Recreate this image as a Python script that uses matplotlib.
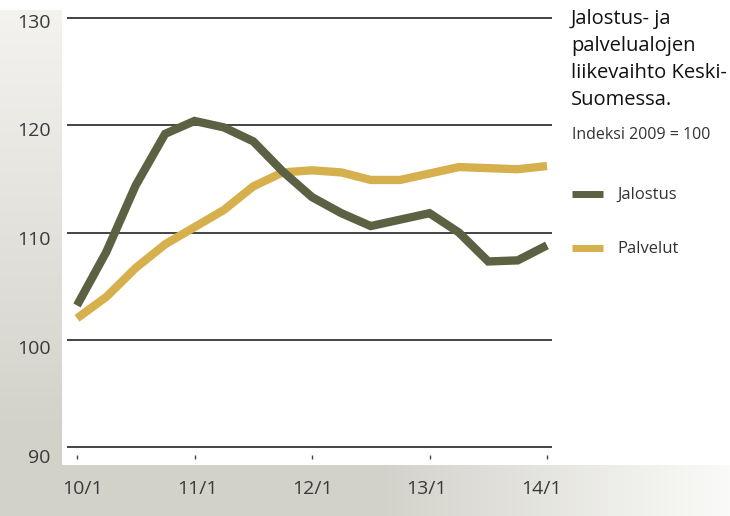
import numpy as np
import matplotlib
matplotlib.use('Agg')
import matplotlib.pyplot as plt
from matplotlib.transforms import ScaledTranslation

# quarterly index values, 2009 = 100
quarters = ['10/1', '10/2', '10/3', '10/4', '11/1', '11/2', '11/3', '11/4',
            '12/1', '12/2', '12/3', '12/4', '13/1', '13/2', '13/3', '13/4', '14/1']
jalostus = [103.2, 108.2, 114.4, 119.2, 120.4, 119.8, 118.5, 115.7,
            113.3, 111.8, 110.6, 111.2, 111.8, 110.0, 107.3, 107.4, 108.8]
palvelut = [102.0, 104.0, 106.7, 108.9, 110.5, 112.1, 114.3, 115.6,
            115.8, 115.6, 114.9, 114.9, 115.5, 116.1, 116.0, 115.9, 116.2]
yticks = [90, 100, 110, 120, 130]
xtick_labels = ['10/1', '11/1', '12/1', '13/1', '14/1']

plt.rcParams['font.family'] = ['Open Sans', 'DejaVu Sans']

W, H = 730, 516
fig = plt.figure(figsize=(W / 100, H / 100), dpi=100)

# background: gray bands with gradients (left and bottom)
img = np.ones((H, W, 3))
dark = np.array([0.827, 0.824, 0.792])
light = np.array([0.955, 0.952, 0.94])
yy = np.arange(H)
t = np.clip((yy - 10) / 420.0, 0, 1)[:, None]
band = light * (1 - t) + dark * t
img[10:, :62, :] = band[10:, None, :] * np.ones((1, 62, 1))
xx = np.arange(W)
s = np.clip((xx - 380) / 370.0, 0, 1)[:, None]
hband = dark * (1 - s) + np.array([0.99, 0.99, 0.985]) * s
img[465:, :, :] = hband[None, :, :]
img[465:, :62, :] = dark
bg = fig.add_axes([0, 0, 1, 1], zorder=0)
bg.imshow(img, extent=(0, W, H, 0), aspect='auto', interpolation='bilinear')
bg.axis('off')

# main axes
left, right, top, bottom = 67, 552, 17, 459
ax = fig.add_axes([left / W, 1 - bottom / H, (right - left) / W, (bottom - top) / H], zorder=1)
ax.patch.set_alpha(0)
x = np.arange(len(quarters))
ax.plot(x, palvelut, color='#d6b04c', lw=6, solid_capstyle='butt', solid_joinstyle='miter', zorder=3)
ax.plot(x, jalostus, color='#5b6142', lw=6, solid_capstyle='butt', solid_joinstyle='miter', zorder=4)

px_per_unit = (447 - 18) / 40.0
ax.set_ylim(90 - (bottom - 447) / px_per_unit, 130 + (18 - top) / px_per_unit)
px_per_q = (547 - 77) / 16.0
ax.set_xlim(-(77 - left) / px_per_q, 16 + (right - 547) / px_per_q)

for v in yticks:
    ax.axhline(v, color='#111111', lw=1.1, zorder=2)

ax.set_yticks(yticks)
ax.set_yticklabels([str(v) for v in yticks], fontsize=14, color='#3a3a3a')
ax.tick_params(axis='y', length=0, pad=12)
# labels in the original sit slightly lower the further down they are
for lab, v in zip(ax.get_yticklabels(), yticks):
    off = (2.5 + (130 - v) * 0.16) / 100
    lab.set_transform(lab.get_transform() + ScaledTranslation(0, -off, fig.dpi_scale_trans))

ax.set_xticks([quarters.index(q) for q in xtick_labels])
ax.set_xticklabels(xtick_labels, fontsize=14, color='#3a3a3a')
ax.tick_params(axis='x', direction='in', length=3, width=1, color='#444444', pad=15)
for i, lab in enumerate(ax.get_xticklabels()):
    off = (5.5 - i * 2.75) / 100
    lab.set_transform(lab.get_transform() + ScaledTranslation(off, 0, fig.dpi_scale_trans))
for sp in ax.spines.values():
    sp.set_visible(False)

# title and legend on the right
fig.text(571 / W, 1 - 9 / H, 'Jalostus- ja\npalvelualojen\nliikevaihto Keski-\nSuomessa.',
         fontsize=14.5, color='#111111', va='top', ha='left', linespacing=1.47)
fig.text(572 / W, 1 - 135 / H, 'Indeksi 2009 = 100', fontsize=11.5, color='#333333',
         va='center', ha='left')
for i, (name, col) in enumerate([('Jalostus', '#5b6142'), ('Palvelut', '#d6b04c')]):
    yc = 1 - (194 + 54 * i) / H
    fig.add_artist(plt.Line2D([572 / W, 603 / W], [yc, yc], color=col, lw=5,
                              solid_capstyle='butt', transform=fig.transFigure))
    fig.text(617 / W, yc - 1 / H, name, fontsize=12, color='#333333', va='center', ha='left')

fig.savefig('out.png', dpi=100)
